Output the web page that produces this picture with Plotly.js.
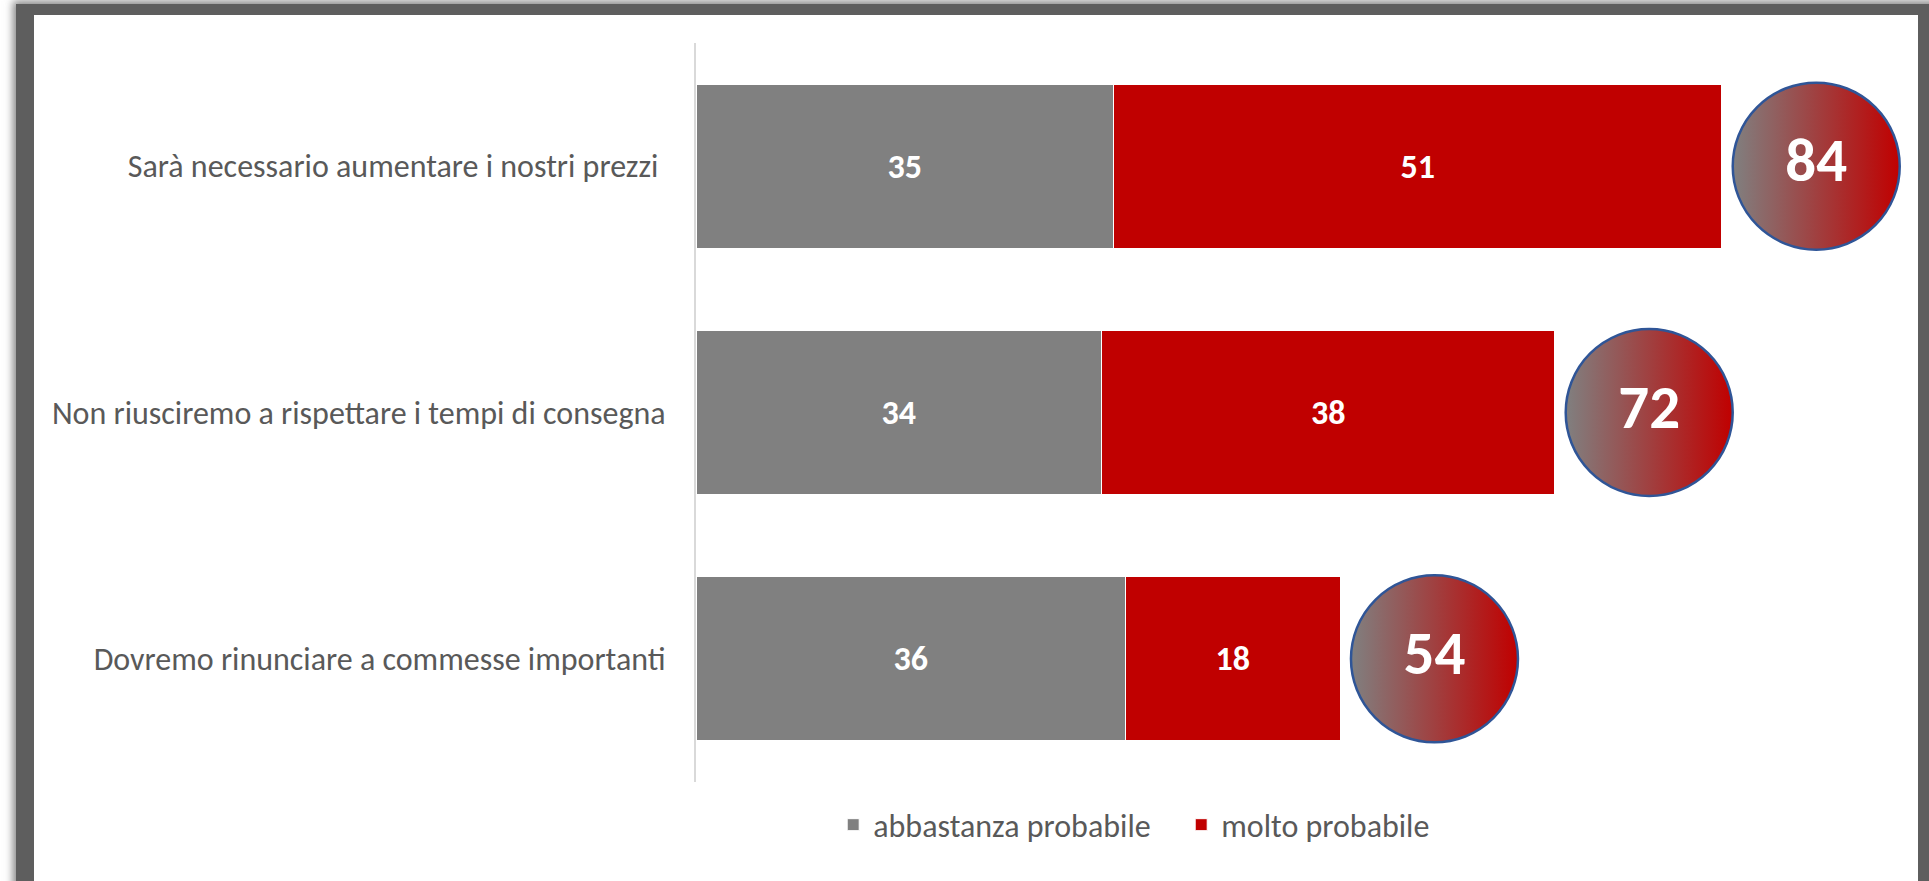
<!DOCTYPE html>
<html>
<head>
<meta charset="utf-8">
<script src="https://cdn.plot.ly/plotly-3.0.1.min.js"></script>
<style>
  html, body { margin: 0; padding: 0; width: 1929px; height: 881px; overflow: hidden; background: #ffffff; }
  #frame { position: absolute; left: 16px; top: 4px; width: 1930px; height: 900px; background: #5e5e5e; box-shadow: 0 0 8px 3px rgba(94,94,94,0.75); }
  #plot { position: absolute; left: 34px; top: 15px; width: 1884px; height: 866px; background: #ffffff; }
</style>
</head>
<body>
<div id="frame"></div>
<div id="plot"></div>
<script>
// ---- data ----
const categories = [
  "Sarà necessario aumentare i nostri prezzi ",
  "Non riusciremo a rispettare i tempi di consegna",
  "Dovremo rinunciare a commesse importanti"
];
const seriesNames = ["abbastanza probabile", "molto probabile"];
const abbastanza = [35, 34, 36];
const molto = [51, 38, 18];
const totals = [84, 72, 54];

// ---- styles ----
const GRAY = "#808080";
const RED = "#c00000";
const TEXT = "#595959";
const FONT = "Carlito, Lato, 'Open Sans', sans-serif";
const BUBBLE_OFFSET = 7.9;

const bubbleX = abbastanza.map((v, i) => v + molto[i] + BUBBLE_OFFSET);

const traces = [
  {
    type: "bar", orientation: "h", name: seriesNames[0],
    y: categories, x: abbastanza,
    text: abbastanza.map(String), textposition: "inside", insidetextanchor: "middle",
    constraintext: "none",
    textfont: { family: FONT, size: 34, color: "#ffffff", weight: "bold" },
    marker: { color: GRAY, line: { color: "#ffffff", width: 1 } },
    hoverinfo: "skip"
  },
  {
    type: "bar", orientation: "h", name: seriesNames[1],
    y: categories, x: molto,
    text: molto.map(String), textposition: "inside", insidetextanchor: "middle",
    constraintext: "none",
    textfont: { family: FONT, size: 34, color: "#ffffff", weight: "bold" },
    marker: { color: RED, line: { color: "#ffffff", width: 1 } },
    hoverinfo: "skip"
  },
  {
    type: "scatter", mode: "markers+text", showlegend: false,
    y: categories, x: bubbleX,
    text: totals.map(String), textposition: "middle center",
    textfont: { family: FONT, size: 61, color: "#ffffff", weight: "bold" },
    marker: {
      size: 167, symbol: "circle", color: GRAY,
      gradient: { type: "horizontal", color: RED },
      line: { color: "#2f5597", width: 2.5 }
    },
    cliponaxis: false,
    hoverinfo: "skip"
  }
];

const layout = {
  width: 1884, height: 866,
  margin: { l: 662, r: 29, t: 28, b: 99 },
  paper_bgcolor: "#ffffff", plot_bgcolor: "#ffffff",
  barmode: "stack", bargap: 0.333,
  font: { family: FONT, color: TEXT, size: 32 },
  xaxis: { range: [0, 100], showgrid: false, zeroline: false, showline: false, showticklabels: false, ticks: "" },
  yaxis: {
    range: [2.5, -0.5], autorange: false, showgrid: false, zeroline: false,
    showline: true, linecolor: "#d9d9d9", linewidth: 2,
    ticks: "outside", ticklen: 22, tickcolor: "rgba(0,0,0,0)",
    tickfont: { family: FONT, size: 32, color: TEXT }
  },
  showlegend: true,
  legend: {
    orientation: "h", x: 0.115, xanchor: "left", y: -0.058, yanchor: "middle",
    font: { family: FONT, size: 32, color: TEXT },
    entrywidth: 303, entrywidthmode: "pixels",
    traceorder: "normal", itemclick: false
  }
};

Plotly.newPlot("plot", traces, layout, { displayModeBar: false, staticPlot: true });
</script>
</body>
</html>
